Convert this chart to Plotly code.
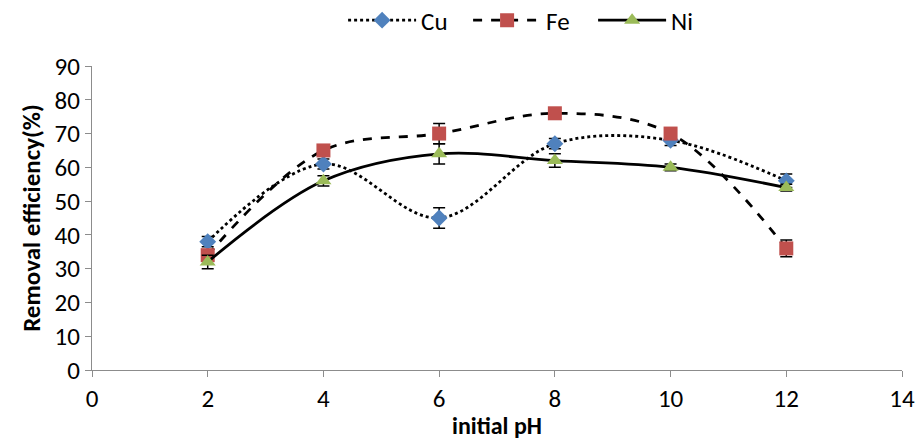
import plotly.graph_objects as go

ph = [2, 4, 6, 8, 10, 12]
cu = [38, 61, 45, 67, 68, 56]
fe = [34, 65, 70, 76, 70, 36]
ni = [32, 56, 64, 62, 60, 54]
cu_err = [1.5, 1.5, 3, 1.5, 1.5, 2]
fe_err = [1.5, 1.5, 3, 1, 1, 2.5]
ni_err = [2, 1.5, 3, 2, 1, 1]

FONT = "Carlito, Liberation Sans, Arial, sans-serif"

fig = go.Figure()

def add(name, y, err, dash, symbol, color, size):
    fig.add_trace(go.Scatter(
        x=ph, y=y, name=name, mode="lines+markers",
        line=dict(color="black", width=2.8, dash=dash, shape="spline", smoothing=1.0),
        marker=dict(symbol=symbol, color=color, size=size, line=dict(width=0)),
        error_y=dict(type="data", array=err, visible=True, color="black",
                     thickness=1.5, width=6),
    ))

add("Cu", cu, cu_err, "dot", "diamond", "#4F81BD", 13)
add("Fe", fe, fe_err, "dash", "square", "#C0504D", 14)
add("Ni", ni, ni_err, "solid", "triangle-up", "#9BBB59", 14)

axis_common = dict(showgrid=False, zeroline=False, showline=True, linecolor="#8c8c8c",
                   linewidth=1.3, ticks="outside", tickcolor="#8c8c8c", ticklen=6,
                   tickfont=dict(family=FONT, size=25, color="black"))

fig.update_layout(
    width=917, height=440,
    margin=dict(l=92, r=15, t=66, b=70, autoexpand=False),
    plot_bgcolor="white", paper_bgcolor="white",
    xaxis=dict(range=[0, 14], tick0=0, dtick=2,
               title=dict(text="<b>initial pH</b>", font=dict(family=FONT, size=24, color="black"), standoff=4),
               **axis_common),
    yaxis=dict(range=[0, 90], tick0=0, dtick=10,
               title=dict(text="<b>Removal efficiency(%)</b>", font=dict(family=FONT, size=25, color="black"), standoff=6),
               **axis_common),
    legend=dict(orientation="h", x=0.31, xanchor="left", y=1.15, yanchor="middle",
                font=dict(family=FONT, size=25, color="black"),
                itemwidth=68, entrywidth=42, entrywidthmode="pixels",
                tracegroupgap=0),
    showlegend=True,
)

fig.write_html("out.html")
